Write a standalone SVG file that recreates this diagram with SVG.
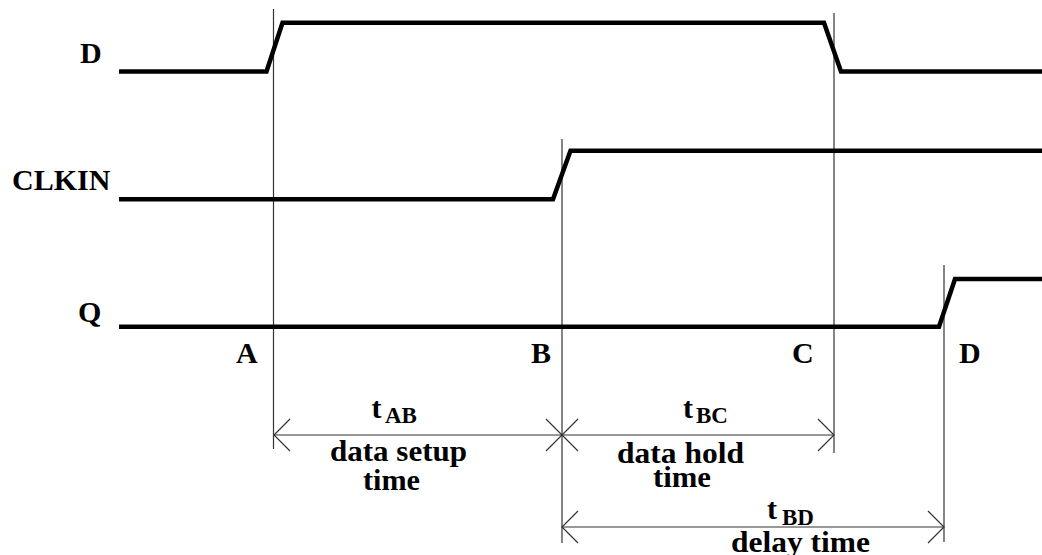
<svg xmlns="http://www.w3.org/2000/svg" width="1042" height="555" viewBox="0 0 1042 555">
<style>
.sig{fill:none;stroke:#000;stroke-width:4.5;stroke-linejoin:miter}
.grid{stroke:#333;stroke-width:1.2;fill:none}
.dim{stroke:#333;stroke-width:1.2;fill:none}
.lbl{font-family:"Liberation Serif","Times New Roman",serif;font-weight:bold;font-size:30px;fill:#000}
.sub{font-size:23px}
</style>
<defs>
<marker id="ah" viewBox="-17 -17 18 34" refX="0" refY="0" markerWidth="18" markerHeight="34" markerUnits="userSpaceOnUse" orient="auto-start-reverse" overflow="visible">
<path d="M-16,-16 L0,0 L-16,16" fill="none" stroke="#333" stroke-width="1.2"/>
</marker>
</defs>
<rect width="1042" height="555" fill="#fff"/>
<g id="guides">
<line class="grid" x1="273.5" y1="9" x2="273.5" y2="449"/>
<line class="grid" x1="562" y1="139" x2="562" y2="543"/>
<line class="grid" x1="834" y1="13" x2="834" y2="453"/>
<line class="grid" x1="944" y1="265" x2="944" y2="542"/>
</g>
<g id="signal-D">
<polyline class="sig" points="119,71.5 266.5,71.5 282.5,22.8 824,22.8 841,71.5 1042,71.5"/>
<text class="lbl" x="80" y="63">D</text>
</g>
<g id="signal-CLKIN">
<polyline class="sig" points="119,199.3 553,199.3 570.5,150.8 1042,150.8"/>
<text class="lbl" x="12" y="189.5">CLKIN</text>
</g>
<g id="signal-Q">
<polyline class="sig" points="119,326.8 939,326.8 955,279 1042,279"/>
<text class="lbl" x="78" y="322">Q</text>
</g>
<g id="points">
<text class="lbl" x="236" y="363">A</text>
<text class="lbl" x="531" y="363">B</text>
<text class="lbl" x="792" y="363">C</text>
<text class="lbl" x="959" y="363">D</text>
</g>
<g id="connectors">
<line class="dim" x1="274" y1="435" x2="562" y2="435" marker-start="url(#ah)" marker-end="url(#ah)"/>
<line class="dim" x1="562" y1="435" x2="834" y2="435" marker-start="url(#ah)" marker-end="url(#ah)"/>
<line class="dim" x1="562" y1="527" x2="944" y2="527" marker-start="url(#ah)" marker-end="url(#ah)"/>
</g>
<g id="label-tAB">
<text class="lbl" x="371.5" y="418">t<tspan class="sub" x="385" y="423">AB</tspan></text>
<text class="lbl" x="330" y="461" textLength="137" lengthAdjust="spacingAndGlyphs">data setup</text>
<text class="lbl" x="363" y="490" textLength="57" lengthAdjust="spacingAndGlyphs">time</text>
</g>
<g id="label-tBC">
<text class="lbl" x="683" y="418">t<tspan class="sub" x="696" y="423">BC</tspan></text>
<text class="lbl" x="617" y="463" textLength="127" lengthAdjust="spacingAndGlyphs">data hold</text>
<text class="lbl" x="653" y="487" textLength="58" lengthAdjust="spacingAndGlyphs">time</text>
</g>
<g id="label-tBD">
<text class="lbl" x="767" y="519">t<tspan class="sub" x="782" y="525">BD</tspan></text>
<text class="lbl" x="731" y="552" textLength="139" lengthAdjust="spacingAndGlyphs">delay time</text>
</g>
</svg>
